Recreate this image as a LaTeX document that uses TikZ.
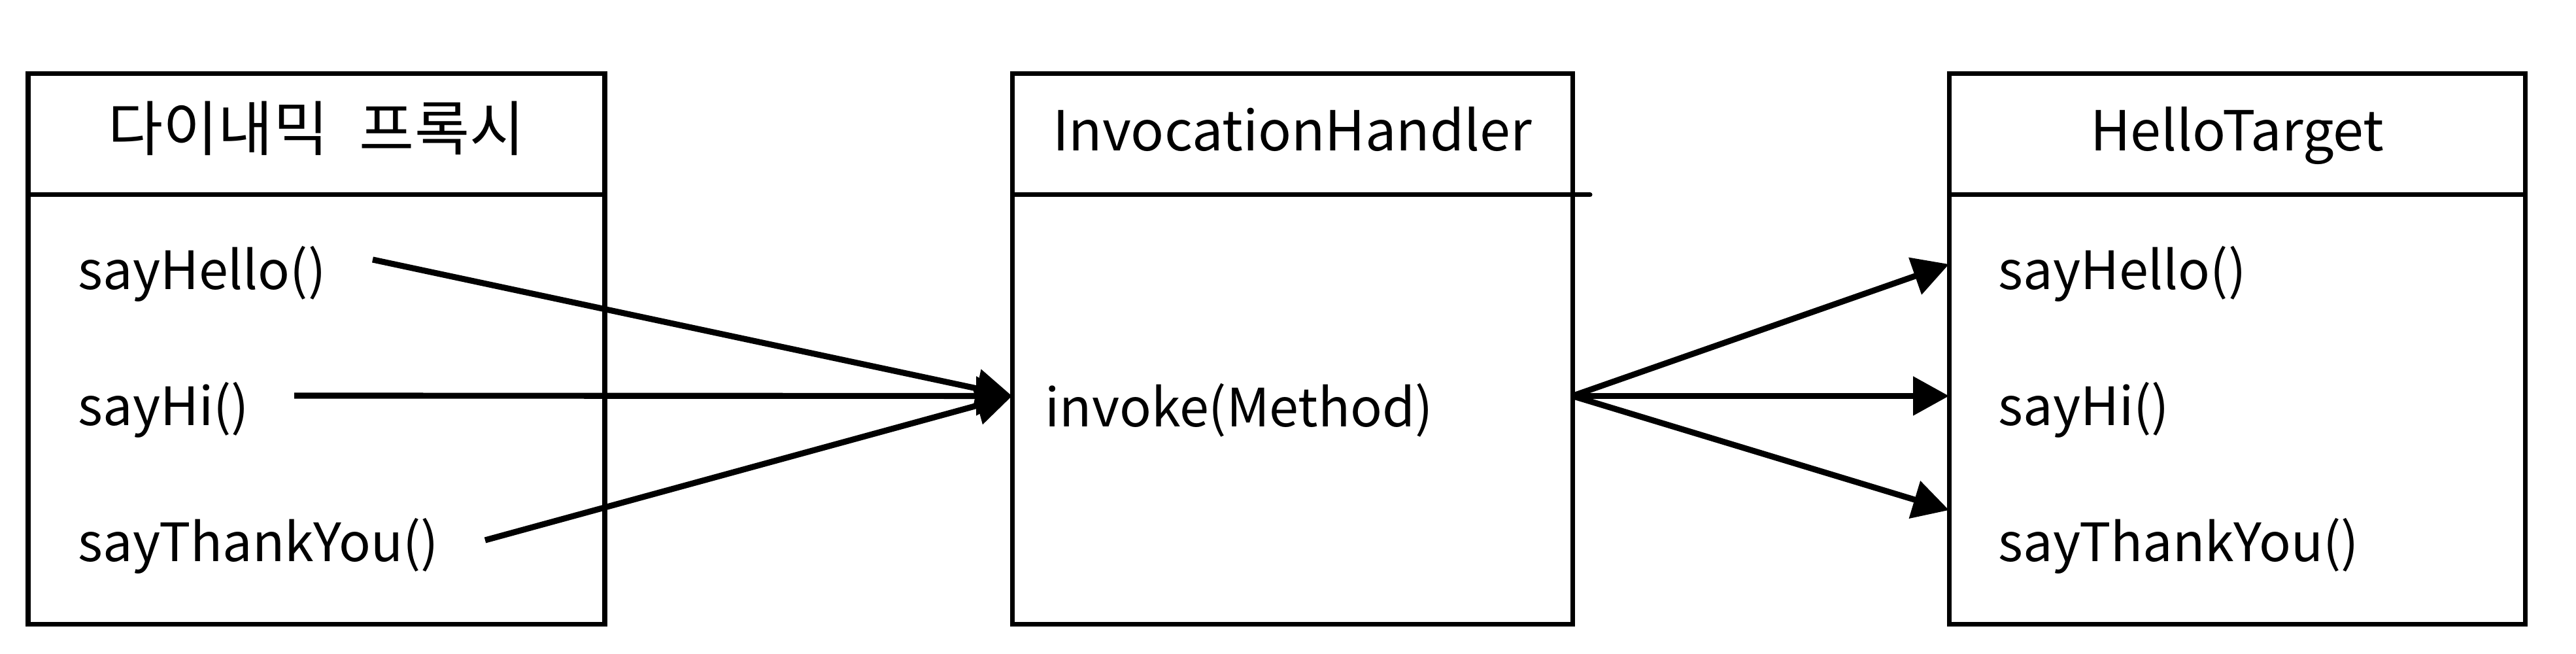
\documentclass[tikz,border=0pt]{standalone}
\usepackage{fontspec}
\setmainfont{Noto Sans CJK KR}
\usetikzlibrary{arrows.meta,positioning}

\begin{document}
\begin{tikzpicture}[
      font=\fontsize{23pt}{28pt}\selectfont,
      box/.style={draw, line width=2pt, outer sep=0pt, inner sep=0pt},
      head/.style={box, minimum height=18.5mm, text height=1.4em, text depth=0em,
                   font=\fontsize{24pt}{28pt}\selectfont},
      body/.style={box, minimum height=65.7mm},
      item/.style={anchor=base west, inner sep=0pt},
      arr/.style={-{Triangle[length=5.5mm,width=5.8mm]}, line width=2.6pt},
    ]
    \useasboundingbox (0,0) rectangle (39.4,10);

    % dynamic proxy
    \node[head, font=\fontsize{26pt}{30pt}\selectfont, minimum width=88.2mm] (proxyhead)
      at (4.84,7.945) {다이내믹\hspace{0.3em} 프록시};
    \node[body, minimum width=88.2mm, below=0pt of proxyhead] (proxybody) {};
    \node[item] (phello) at (1.19,5.57) {sayHello()};
    \node[item] (phi) at (1.19,3.49) {sayHi()};
    \node[item] (pthank) at (1.19,1.41) {sayThankYou()};

    % invocation handler
    \node[head, minimum width=85.7mm] (ihhead) at (19.765,7.945) {InvocationHandler};
    \node[body, minimum width=85.7mm, below=0pt of ihhead] (ihbody) {};
    \node[item] (invoke) at (15.98,3.47) {invoke(Method)};

    % target
    \node[head, minimum width=88.1mm] (thead) at (34.215,7.945) {HelloTarget};
    \node[body, minimum width=88.1mm, below=0pt of thead] (tbody) {};
    \node[item] (thello) at (30.56,5.57) {sayHello()};
    \node[item] (thi) at (30.56,3.49) {sayHi()};
    \node[item] (tthank) at (30.56,1.41) {sayThankYou()};

    \draw[line width=2pt, line cap=round] (ihhead.south east) -- ++(0.27,0);

    % calls into the handler
    \coordinate (s1) at (5.70,6.03);
    \coordinate (s2) at (4.50,3.95);
    \coordinate (s3) at (7.42,1.74);
    \coordinate (in) at ([yshift=2.1mm]ihbody.west);
    \coordinate (out) at ([yshift=2.1mm]ihbody.east);
    \draw[arr] (s1) -- (in);
    \draw[arr] (s2) -- (in);
    \draw[arr] (s3) -- (in);

    % handler to target methods
    \draw[arr] (out) -- (tbody.west |- 0,5.96);
    \draw[arr] (out) -- (tbody.west |- out);
    \draw[arr] (out) -- (tbody.west |- 0,2.2);
  \end{tikzpicture}
\end{document}
